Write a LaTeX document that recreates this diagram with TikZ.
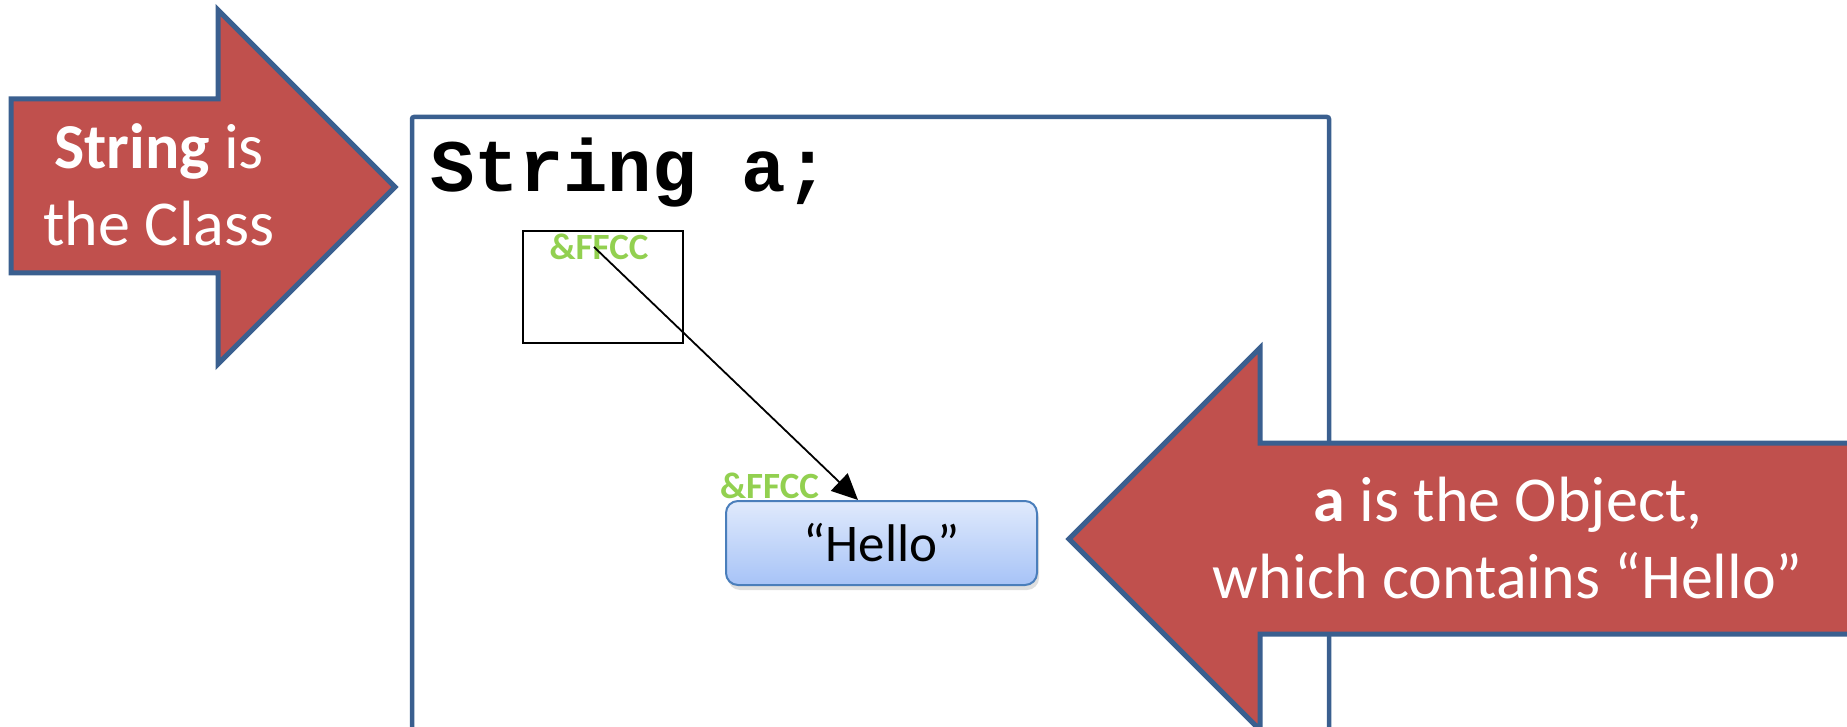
\documentclass[tikz,border=0pt]{standalone}
\usepackage{fontspec}
\setmainfont{Carlito}
\newfontfamily\codefont{Liberation Mono}
\usetikzlibrary{arrows.meta,shadows,calc}
\definecolor{arrowred}{HTML}{C0504D}
\definecolor{edgeblue}{HTML}{3A5F8F}
\definecolor{addrgreen}{HTML}{92D050}
\definecolor{hellotop}{HTML}{E0EAFC}
\definecolor{hellobot}{HTML}{A7C3F7}
\definecolor{helloedge}{HTML}{4A7EBB}
\begin{document}
\begin{tikzpicture}[x=1pt,y=-1pt,
  mainbox/.style={draw=edgeblue,line width=4.5pt,rounded corners=2pt},
  bigarrow/.style={draw=edgeblue,fill=arrowred,line width=5pt,line join=miter},
  arrowtext/.style={text=white,align=center,inner sep=0pt,anchor=base,font=\fontsize{64}{77}\selectfont},
  codetext/.style={inner sep=0pt,anchor=base west,font=\codefont\bfseries\fontsize{74}{80}\selectfont},
  refbox/.style={draw=black,line width=2pt,minimum width=160pt,minimum height=112pt,inner sep=0pt},
  hellobox/.style={draw=helloedge,line width=2pt,rounded corners=12pt,top color=hellotop,bottom color=hellobot,
    minimum width=311pt,minimum height=84pt,inner sep=0pt,font=\fontsize{53}{60}\selectfont,
    drop shadow={opacity=0.25,shadow xshift=2pt,shadow yshift=-5pt}},
  addr/.style={text=addrgreen,inner sep=0pt,anchor=base,font=\bfseries\fontsize{37}{40}\selectfont},
  ptr/.style={draw=black,line width=1.8pt,-{Triangle[length=26pt,width=24pt]}}
]
\useasboundingbox (0,0) rectangle (1847,727);
\clip (0,0) rectangle (1847,727);
% main frame
\draw[mainbox] (412,770) -- (412,117) -- (1329,117) -- (1329,770);
\node[codetext] (decl) at (430,192) {String a;};
% reference box and object
\node[refbox] (ref) at (603,287) {};
\coordinate (astart) at (594,247);
\node[hellobox] (hello) at (881.5,543) {“Hello”};
\node[addr] (addr1) at (599,260) {\&FFCC};
\node[addr] (addr2) at (769.5,498) {\&FFCC};
\draw[ptr] (astart) -- ([xshift=-23.5pt]hello.north);
% left block arrow
\draw[bigarrow] (11,99) -- (218,99) -- (218,10) -- (395,187) -- (218,364) -- (218,273) -- (11,273) -- cycle;
\node[arrowtext] (cls) at (159,246) {\textbf{String} is\\the Class};
% right block arrow
\draw[bigarrow] (1900,443) -- (1260,443) -- (1260,348) -- (1069,539) -- (1260,730) -- (1260,634) -- (1900,634) -- cycle;
\node[arrowtext] (obj) at (1508,598) {\textbf{a} is the Object,\\which contains “Hello”};
\end{tikzpicture}
\end{document}
